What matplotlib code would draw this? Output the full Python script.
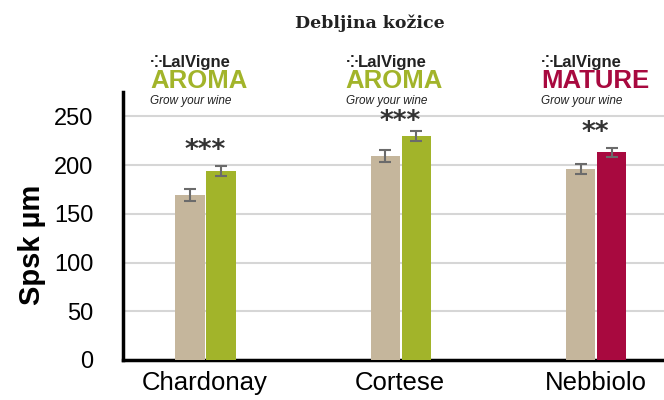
import matplotlib
matplotlib.use("Agg")
import matplotlib.pyplot as plt
import numpy as np

categories = ["Chardonay", "Cortese", "Nebbiolo"]
control = [169, 209, 196]
control_err = [6, 6, 5]
treated = [194, 230, 213]
treated_err = [5, 5, 5]
stars = ["***", "***", "**"]
products = ["AROMA", "AROMA", "MATURE"]
product_colors = ["#a2b42a", "#a2b42a", "#a8093f"]
yticks = [0, 50, 100, 150, 200, 250]

tan = "#c5b69c"
sans = "Liberation Sans"

fig = plt.figure(figsize=(6.64, 4.0), dpi=100)
ax = fig.add_axes([0.185, 0.1, 0.815, 0.67])

x = np.arange(len(categories))
w = 0.15
ax.bar(x - 0.077, control, w, color=tan, zorder=3)
ax.bar(x + 0.082, treated, w, color=product_colors, zorder=3)
ax.errorbar(x - 0.077, control, yerr=control_err, fmt="none", ecolor="#6b6b6b",
            elinewidth=1.5, capsize=4.5, capthick=1.5, zorder=4)
ax.errorbar(x + 0.082, treated, yerr=treated_err, fmt="none", ecolor="#6b6b6b",
            elinewidth=1.5, capsize=4.5, capthick=1.5, zorder=4)

for i, s in enumerate(stars):
    ax.text(x[i], min(treated[i] + 20, 244), s, ha="center", va="center",
            fontsize=19, fontweight="bold", color="#333333", family="DejaVu Sans")

ax.set_xlim(-0.42, 2.35)
ax.set_ylim(0, 275)
ax.set_yticks(yticks)
ax.set_yticklabels([str(v) for v in yticks], family=sans, fontsize=17)
ax.set_xticks(x)
ax.set_xticklabels(categories, fontsize=18.5, family=sans)
ax.tick_params(axis="y", length=0, pad=21)
ax.tick_params(axis="x", length=0, pad=8)
ax.yaxis.grid(True, color="#d6d6d6", linewidth=1.5, zorder=0)
ax.set_axisbelow(True)
for sp in ["top", "right"]:
    ax.spines[sp].set_visible(False)
ax.spines["left"].set_linewidth(2.5)
ax.spines["bottom"].set_linewidth(2.5)
ax.set_ylabel("Spsk µm", fontsize=21, fontweight="bold", family=sans, labelpad=6, y=0.43)

fig.text(0.557, 0.943, "Debljina kožice", ha="center", va="center",
         fontsize=12.5, fontweight="bold", family="DejaVu Serif", color="#222222")

# product logos above each group
for i, (p, c) in enumerate(zip(products, product_colors)):
    left = (123 + (x[i] + 0.42) * 195.5 - 55) / 664
    fig.text(left, 0.8325, "⁘", fontsize=11, fontweight="bold", color="#222222",
             ha="left", va="baseline", family="DejaVu Sans")
    fig.text(left + 12 / 664, 0.8325, "LalVigne", fontsize=12, fontweight="bold",
             color="#222222", ha="left", va="baseline", family=sans)
    fig.text(left, 0.78, p, fontsize=18.5, fontweight="bold", color=c,
             ha="left", va="baseline", family=sans)
    fig.text(left, 0.741, "Grow your wine", fontsize=8.5, style="italic",
             color="#222222", ha="left", va="baseline", family=sans)

fig.savefig("out.png", dpi=100)
